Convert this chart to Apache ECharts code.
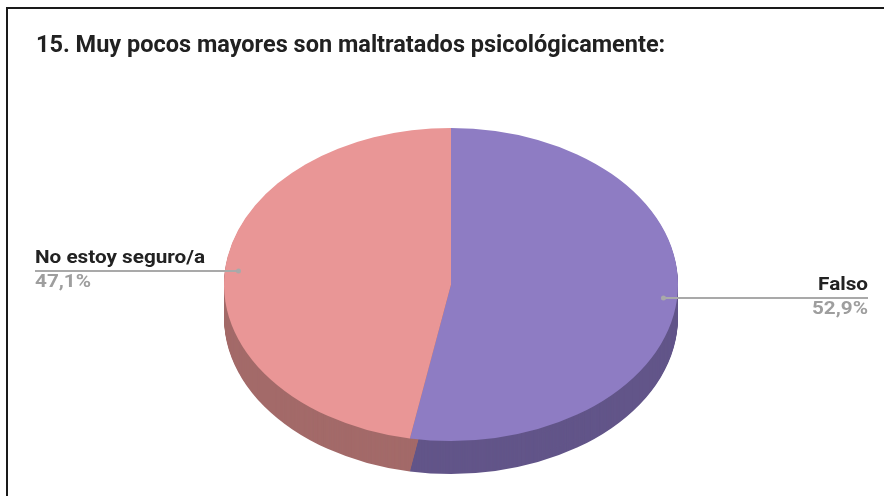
<!DOCTYPE html>
<html><head><meta charset="utf-8">
<script src="https://cdn.jsdelivr.net/npm/echarts@6/dist/echarts.min.js"></script>
<style>html,body{margin:0;padding:0;background:#fff}#c{width:884px;height:496px}</style>
</head><body><div id="c"></div>
<script>
const titleText = '15. Muy pocos mayores son maltratados psicológicamente:';
const categories = ['Falso', 'No estoy seguro/a'];
const values = [52.9, 47.1];

const topColors = ['#8e7cc3', '#e99696'];
const sideColors = ['#625589', '#a36a69'];

const CX = 451, CY = 284.5, RX = 227, RY = 156.5, DEPTH = 33;
const total = values.reduce((a, b) => a + b, 0);
const starts = [];
let acc = 0;
values.forEach(v => { starts.push(acc); acc += v; });
const fmt = v => v.toFixed(1).replace('.', ',') + '%';

function sector(a0, a1, y, fill, z2) {
  return {
    type: 'sector', x: CX, y: y, scaleY: RY / RX,
    shape: { cx: 0, cy: 0, r: RX, r0: 0, startAngle: a0, endAngle: a1, clockwise: true },
    style: { fill: fill }, z2: z2, silent: true
  };
}

function renderItem(params, api) {
  const i = params.dataIndex;
  const v = api.value(1);
  const a0 = -Math.PI / 2 + 2 * Math.PI * starts[i] / total;
  const a1 = a0 + 2 * Math.PI * v / total;
  const children = [];
  for (let d = DEPTH; d >= 1; d--) children.push(sector(a0, a1, CY + d, sideColors[i], 1));
  children.push(sector(a0, a1, CY, topColors[i], 10));
  const mid = (a0 + a1) / 2;
  const px = CX + 0.94 * RX * Math.cos(mid);
  const py = CY + 0.94 * RY * Math.sin(mid);
  const right = Math.cos(mid) >= 0;
  const ex = right ? 868 : 35;
  children.push({ type: 'line', shape: { x1: px, y1: py, x2: ex, y2: py }, style: { stroke: '#a9a9a9', lineWidth: 2 }, z2: 20 });
  children.push({ type: 'circle', shape: { cx: px, cy: py, r: 2.5 }, style: { fill: '#a9a9a9' }, z2: 21 });
  children.push({ type: 'text', x: ex, y: py - 12.5, scaleX: 1.15, style: { text: categories[i], fill: '#222222', font: 'bold 18px Roboto', align: right ? 'right' : 'left', verticalAlign: 'middle' }, z2: 20 });
  children.push({ type: 'text', x: ex, y: py + 11.5, scaleX: 1.15, style: { text: fmt(v), fill: '#9e9e9e', font: 'bold 18px Roboto', align: right ? 'right' : 'left', verticalAlign: 'middle' }, z2: 20 });
  return { type: 'group', children: children };
}

const chart = echarts.init(document.getElementById('c'), null, { renderer: 'canvas' });
chart.setOption({
  backgroundColor: '#ffffff',
  animation: false,
  graphic: [
    { type: 'polyline', shape: { points: [[7, 496], [7, 8], [884, 8]] }, style: { stroke: '#1a1a1a', lineWidth: 2, fill: null }, z: 100 },
    { type: 'text', x: 36, y: 46.5, style: { text: titleText, fill: '#212121', font: 'bold 23.5px Roboto', verticalAlign: 'middle' } }
  ],
  series: [{
    type: 'custom',
    coordinateSystem: 'none',
    renderItem: renderItem,
    data: categories.map((c, i) => ({ name: c, value: [i, values[i]] }))
  }]
});
</script>
</body></html>
